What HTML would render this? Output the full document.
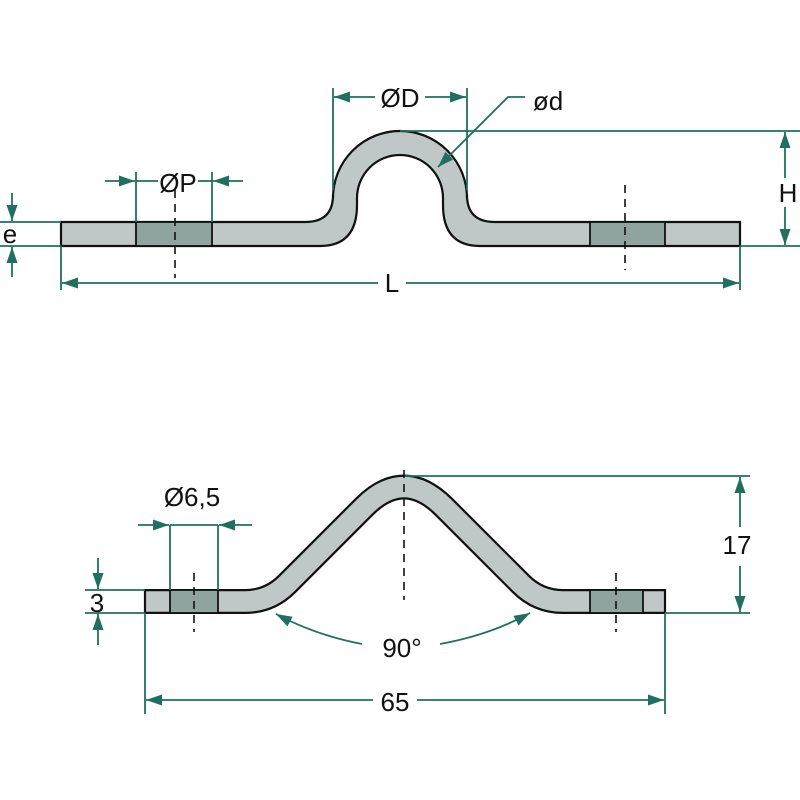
<!DOCTYPE html>
<html><head><style>body{margin:0;background:#fff}svg{display:block}</style></head><body>
<svg width="800" height="800" viewBox="0 0 800 800" xmlns="http://www.w3.org/2000/svg">
<defs>
<marker id="a" viewBox="0 0 16 11" refX="16" refY="5.5" markerWidth="16" markerHeight="11" orient="auto-start-reverse" markerUnits="userSpaceOnUse"><path d="M0,0 L16,5.5 L0,11 z" fill="#21705f"/></marker>
</defs>
<rect width="800" height="800" fill="#fff"/>
<!-- TOP PART -->
<path d="M61,222 H305 Q333,222 333,195 V198 A67,67 0 0 1 467,198 V195 Q467,222 495,222 H740 V246 H480 Q443,246 443,205 V198 A43,43 0 0 0 357,198 V205 Q357,246 320,246 H61 Z" fill="#bfc8c6" stroke="#111" stroke-width="2.2"/>
<rect x="136" y="222" width="76" height="24" fill="#8fa49e" stroke="#111" stroke-width="1.8"/>
<rect x="590" y="222" width="75" height="24" fill="#8fa49e" stroke="#111" stroke-width="1.8"/>
<g stroke="#21705f" stroke-width="1.8" fill="none">
<line x1="333" y1="88" x2="333" y2="190"/><line x1="467" y1="88" x2="467" y2="190"/>
<line x1="375" y1="97" x2="334" y2="97" marker-end="url(#a)"/>
<line x1="425" y1="97" x2="466" y2="97" marker-end="url(#a)"/>
<polyline points="525,97 508,97 438,167" marker-end="url(#a)"/>
<line x1="400" y1="131" x2="800" y2="131"/><line x1="740" y1="246" x2="800" y2="246"/>
<line x1="785" y1="178" x2="785" y2="132" marker-end="url(#a)"/>
<line x1="785" y1="207" x2="785" y2="245" marker-end="url(#a)"/>
<line x1="0" y1="222" x2="61" y2="222"/><line x1="0" y1="246" x2="61" y2="246"/>
<line x1="12" y1="193" x2="12" y2="221" marker-end="url(#a)"/>
<line x1="12" y1="277" x2="12" y2="247" marker-end="url(#a)"/>
<line x1="136" y1="172" x2="136" y2="222"/><line x1="212" y1="172" x2="212" y2="222"/>
<line x1="105" y1="181" x2="135" y2="181" marker-end="url(#a)"/>
<line x1="243" y1="181" x2="213" y2="181" marker-end="url(#a)"/>
<line x1="136" y1="181" x2="158" y2="181"/><line x1="198" y1="181" x2="212" y2="181"/>
<line x1="61" y1="246" x2="61" y2="290"/><line x1="740" y1="246" x2="740" y2="290"/>
<line x1="378" y1="283" x2="62" y2="283" marker-end="url(#a)"/>
<line x1="406" y1="283" x2="739" y2="283" marker-end="url(#a)"/>
</g>
<g stroke="#111" stroke-width="1.6" stroke-dasharray="8,6">
<line x1="175" y1="190" x2="175" y2="278"/><line x1="625" y1="185" x2="625" y2="270"/>
</g>
<g font-family="Liberation Sans, sans-serif" font-size="26" fill="#111">
<text x="400" y="107" text-anchor="middle">ØD</text>
<text x="548" y="110" text-anchor="middle">ød</text>
<text x="788" y="202" text-anchor="middle">H</text>
<text x="10" y="243" text-anchor="middle">e</text>
<text x="178" y="192" text-anchor="middle">ØP</text>
<text x="392" y="292" text-anchor="middle">L</text>
</g>
<!-- BOTTOM PART -->
<path d="M145,601.5 H245 Q269.5,601.5 287,584 L364,507 Q404,467 444,507 L521,584 Q538.5,601.5 563,601.5 H665" fill="none" stroke="#111" stroke-width="25" stroke-linejoin="round"/>
<path d="M145,601.5 H245 Q269.5,601.5 287,584 L364,507 Q404,467 444,507 L521,584 Q538.5,601.5 563,601.5 H665" fill="none" stroke="#bfc8c6" stroke-width="20.6" stroke-linejoin="round"/>
<line x1="145" y1="589" x2="145" y2="614" stroke="#111" stroke-width="2.2"/>
<line x1="665" y1="589" x2="665" y2="614" stroke="#111" stroke-width="2.2"/>
<rect x="170" y="590" width="48" height="23" fill="#8fa49e" stroke="#111" stroke-width="1.8"/>
<rect x="590" y="590" width="53" height="23" fill="#8fa49e" stroke="#111" stroke-width="1.8"/>
<g stroke="#21705f" stroke-width="1.8" fill="none">
<line x1="404" y1="476" x2="750" y2="476"/><line x1="665" y1="613" x2="750" y2="613"/>
<line x1="740" y1="527" x2="740" y2="477" marker-end="url(#a)"/>
<line x1="740" y1="566" x2="740" y2="612" marker-end="url(#a)"/>
<line x1="85" y1="590" x2="145" y2="590"/><line x1="85" y1="613" x2="145" y2="613"/>
<line x1="98" y1="558" x2="98" y2="589" marker-end="url(#a)"/>
<line x1="98" y1="645" x2="98" y2="614" marker-end="url(#a)"/>
<line x1="170" y1="525" x2="170" y2="590"/><line x1="218" y1="525" x2="218" y2="590"/>
<line x1="138" y1="525" x2="169" y2="525" marker-end="url(#a)"/>
<line x1="252" y1="525" x2="219" y2="525" marker-end="url(#a)"/>
<line x1="170" y1="525" x2="218" y2="525"/>
<line x1="145" y1="613" x2="145" y2="714"/><line x1="665" y1="613" x2="665" y2="714"/>
<line x1="373" y1="700" x2="146" y2="700" marker-end="url(#a)"/>
<line x1="417" y1="700" x2="664" y2="700" marker-end="url(#a)"/>
<path d="M362,644 Q315,635 276,614" marker-end="url(#a)"/>
<path d="M440,644 Q490,635 530,613" marker-end="url(#a)"/>
</g>
<g stroke="#111" stroke-width="1.6" stroke-dasharray="8,6">
<line x1="194" y1="573" x2="194" y2="632"/><line x1="616" y1="573" x2="616" y2="632"/>
<line x1="404" y1="470" x2="404" y2="600"/>
</g>
<g font-family="Liberation Sans, sans-serif" font-size="26" fill="#111">
<text x="737" y="554" text-anchor="middle">17</text>
<text x="97" y="612" text-anchor="middle">3</text>
<text x="192" y="506" text-anchor="middle">Ø6,5</text>
<text x="395" y="711" text-anchor="middle">65</text>
<text x="402" y="657" text-anchor="middle">90°</text>
</g>
</svg>
</body></html>
